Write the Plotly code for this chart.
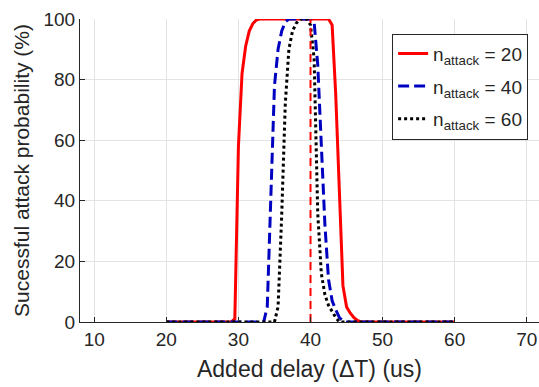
import plotly.graph_objects as go

# Added delay (us) and successful attack probability (%) for each attack size
delay_20 = [20, 29, 29.5, 30, 30.5, 31, 31.5, 32, 32.5, 33, 42.5, 43, 43.5, 44, 44.5, 45, 45.5, 46, 46.5, 47, 60]
prob_20 = [0, 0, 1, 58, 82, 91, 96, 98.5, 99.7, 100, 100, 98, 75, 42, 12, 5, 3, 1.5, 0.5, 0, 0]

delay_40 = [20, 33.5, 34, 34.5, 35, 35.5, 36, 36.5, 37, 40, 40.5, 41, 41.5, 42, 42.5, 43, 43.5, 44, 44.5, 45, 60]
prob_40 = [0, 0, 5, 45, 78, 90, 96, 99, 100, 100, 99, 85, 60, 32, 14, 7, 4, 1.5, 0.3, 0, 0]

delay_60 = [20, 35, 35.5, 36, 36.5, 37, 37.5, 38, 38.5, 39.5, 40, 40.5, 41, 41.5, 42, 42.5, 43, 43.5, 44, 60]
prob_60 = [0, 0, 5, 35, 72, 90, 96, 98.5, 100, 100, 98, 87, 36, 16, 9, 5.5, 3.5, 1.5, 0, 0]

# Reference delay marker
ref_delay = [40, 40]
ref_prob = [0, 100]

series_names = ["n<sub>attack</sub> = 20", "n<sub>attack</sub> = 40", "n<sub>attack</sub> = 60"]

x_ticks = [10, 20, 30, 40, 50, 60, 70]
y_ticks = [0, 20, 40, 60, 80, 100]

TEXT = "#262626"
FONT = "Liberation Sans, Arial, Helvetica, sans-serif"

fig = go.Figure()
fig.add_trace(go.Scatter(x=delay_20, y=prob_20, mode="lines", name=series_names[0],
                         legendgroup="g20",
                         line=dict(color="#ff0000", width=3)))
fig.add_trace(go.Scatter(x=delay_40, y=prob_40, mode="lines", name=series_names[1],
                         legendgroup="g40",
                         line=dict(color="#0000c0", width=3, dash="11px,5px")))
fig.add_trace(go.Scatter(x=delay_60, y=prob_60, mode="lines", name=series_names[2],
                         legendgroup="g60",
                         line=dict(color="#000000", width=3, dash="3px,3px")))
fig.add_trace(go.Scatter(x=ref_delay, y=ref_prob, mode="lines", showlegend=False,
                         line=dict(color="#ff0000", width=2, dash="8px,5px")))

fig.update_layout(
    width=539, height=387,
    margin=dict(l=80, r=0, t=19, b=65),
    paper_bgcolor="white", plot_bgcolor="white",
    font=dict(family=FONT, size=19, color=TEXT),
    legend=dict(
        x=0.68, y=0.952, xanchor="left", yanchor="top",
        bgcolor="white", bordercolor=TEXT, borderwidth=1,
        font=dict(size=19, color=TEXT),
        tracegroupgap=5, itemwidth=30,
    ),
    xaxis=dict(
        range=[8.02, 71.7], tickvals=x_ticks,
        showgrid=True, gridcolor="#e3e3e3", gridwidth=1,
        showline=True, linecolor=TEXT, linewidth=1,
        ticks="inside", ticklen=5, tickcolor=TEXT,
        zeroline=False,
        tickfont=dict(size=19),
        title=dict(text="Added delay (\u0394T) (us)", font=dict(size=23, color=TEXT), standoff=12),
    ),
    yaxis=dict(
        range=[0, 100], tickvals=y_ticks,
        showgrid=True, gridcolor="#e3e3e3", gridwidth=1,
        showline=True, linecolor=TEXT, linewidth=1,
        ticks="inside", ticklen=5, tickcolor=TEXT,
        zeroline=False,
        tickfont=dict(size=19),
        title=dict(text="Sucessful attack probability (%)", font=dict(size=21, color=TEXT), standoff=8),
    ),
)

fig.write_html("out.html")
